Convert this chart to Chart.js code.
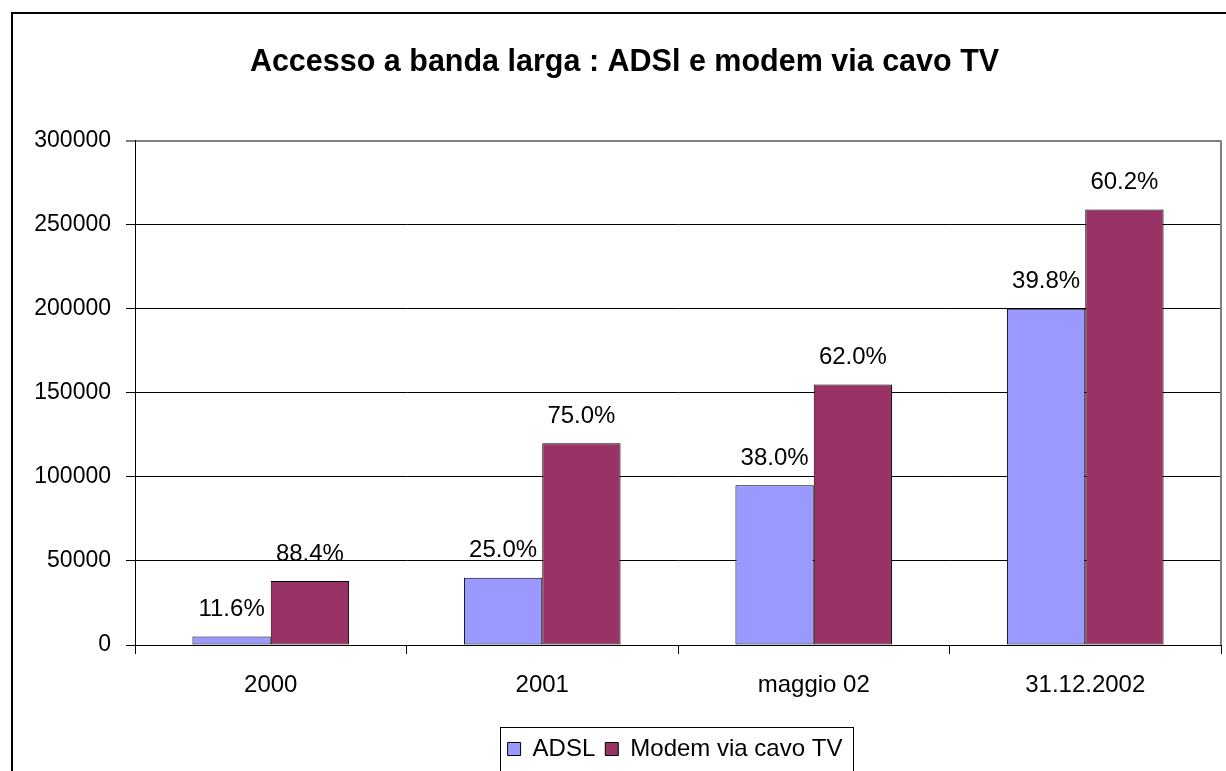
<!DOCTYPE html>
<html>
<head>
<meta charset="utf-8">
<script src="https://cdn.jsdelivr.net/npm/chart.js@4.4.1/dist/chart.umd.min.js"></script>
<style>
  html, body { margin: 0; padding: 0; background: #ffffff; }
  #wrap { width: 1226px; height: 771px; position: relative; }
</style>
</head>
<body>
<div id="wrap"><canvas id="c" width="1226" height="771"></canvas></div>
<script>
const titleText = "Accesso a banda larga : ADSl e modem via cavo TV";
const categories = ["2000", "2001", "maggio 02", "31.12.2002"];
const seriesNames = ["ADSL", "Modem via cavo TV"];
const adslValues = [5000, 40000, 95000, 200000];
const cableValues = [38000, 120000, 155000, 259000];
const adslLabels = ["11.6%", "25.0%", "38.0%", "39.8%"];
const cableLabels = ["88.4%", "75.0%", "62.0%", "60.2%"];
const yTicks = [0, 50000, 100000, 150000, 200000, 250000, 300000];

const FONT = "'Liberation Sans', Arial, sans-serif";

const frame = {
  id: 'frame',
  afterLayout(chart) {
    const lg = chart.legend;
    const a = chart.chartArea;
    if (lg && a) {
      lg.left = a.left - 6;
      lg.right = a.right;
      lg.width = lg.right - lg.left;
    }
    const tt = chart.titleBlock;
    if (tt) {
      tt.left = 28;
      tt.right = a.right;
      tt.width = tt.right - tt.left;
    }
  },
  beforeDraw(chart) {
    const ctx = chart.ctx;
    ctx.save();
    ctx.fillStyle = '#ffffff';
    ctx.fillRect(0, 0, chart.width, chart.height);
    ctx.strokeStyle = '#000000';
    ctx.lineWidth = 2;
    ctx.strokeRect(12, 13, chart.width + 40, chart.height + 40);
    ctx.restore();
  },
  afterDraw(chart) {
    const ctx = chart.ctx;
    const a = chart.chartArea;
    ctx.save();
    ctx.strokeStyle = '#808080';
    ctx.lineWidth = 2;
    ctx.beginPath();
    ctx.moveTo(Math.round(a.right), a.top);
    ctx.lineTo(Math.round(a.right), a.bottom);
    ctx.stroke();
    // legend border
    const lg = chart.legend;
    if (lg && lg.legendHitBoxes && lg.legendHitBoxes.length) {
      let l = Infinity, r = -Infinity, t = Infinity, b = -Infinity;
      lg.legendHitBoxes.forEach(h => {
        l = Math.min(l, h.left); r = Math.max(r, h.left + h.width);
        t = Math.min(t, h.top); b = Math.max(b, h.top + h.height);
      });
      ctx.strokeStyle = '#000000';
      ctx.lineWidth = 1;
      ctx.strokeRect(Math.round(l - 8) + 0.5, Math.round(t - 10) + 0.5, Math.round(r - l + 18), Math.round(b - t + 20));
    }
    ctx.restore();
  }
};

const valueLabels = {
  id: 'valueLabels',
  afterDatasetsDraw(chart) {
    const ctx = chart.ctx;
    const lists = [adslLabels, cableLabels];
    ctx.save();
    ctx.fillStyle = '#000000';
    ctx.font = "24px " + FONT;
    ctx.textAlign = 'center';
    ctx.textBaseline = 'middle';
    chart.data.datasets.forEach((ds, i) => {
      const meta = chart.getDatasetMeta(i);
      meta.data.forEach((el, j) => {
        ctx.fillText(lists[i][j], el.x, el.y - 27);
      });
    });
    ctx.restore();
  }
};

new Chart(document.getElementById('c'), {
  type: 'bar',
  data: {
    labels: categories,
    datasets: [
      { label: seriesNames[0], data: adslValues, backgroundColor: '#9999FF', borderColor: '#000000', borderWidth: 1, borderSkipped: false },
      { label: seriesNames[1], data: cableValues, backgroundColor: '#993366', borderColor: '#000000', borderWidth: 1, borderSkipped: false }
    ]
  },
  options: {
    responsive: false,
    animation: false,
    layout: { padding: { left: 12, right: 5, top: 12, bottom: 0 } },
    datasets: { bar: { categoryPercentage: 0.577, barPercentage: 1.0 } },
    plugins: {
      title: {
        display: true,
        text: titleText,
        color: '#000000',
        font: { family: FONT, size: 30.5, weight: 'bold' },
        padding: { top: 32, bottom: 60 }
      },
      legend: {
        position: 'bottom',
        labels: {
          color: '#000000',
          font: { family: FONT, size: 24 },
          boxWidth: 13, boxHeight: 13, padding: 10,
          generateLabels(chart) {
            return chart.data.datasets.map((d, i) => ({
              text: d.label, fillStyle: d.backgroundColor, strokeStyle: '#000000',
              lineWidth: 1, hidden: false, datasetIndex: i
            }));
          }
        }
      },
      tooltip: { enabled: false }
    },
    scales: {
      x: {
        grid: { drawOnChartArea: false, drawTicks: true, tickLength: 9, color: '#000000', lineWidth: 1, offset: true },
        border: { color: '#000000', width: 1 },
        ticks: { color: '#000000', font: { family: FONT, size: 24 }, padding: 17, maxRotation: 0 },
        afterFit(scale) { scale.height = 82; }
      },
      y: {
        min: 0, max: 300000,
        afterBuildTicks(scale) { scale.ticks = yTicks.map(v => ({ value: v })); },
        grid: {
          color: ctx => (ctx.tick && ctx.tick.value === 300000 ? '#808080' : '#000000'),
          lineWidth: ctx => (ctx.tick && ctx.tick.value === 300000 ? 2 : 1),
          tickLength: 9, drawTicks: true
        },
        border: { color: '#000000', width: 1 },
        ticks: { color: '#000000', font: { family: FONT, size: 23 }, padding: 15, callback: v => String(v) },
        afterFit(scale) { scale.width = 123; }
      }
    }
  },
  plugins: [frame, valueLabels]
});
</script>
</body>
</html>
